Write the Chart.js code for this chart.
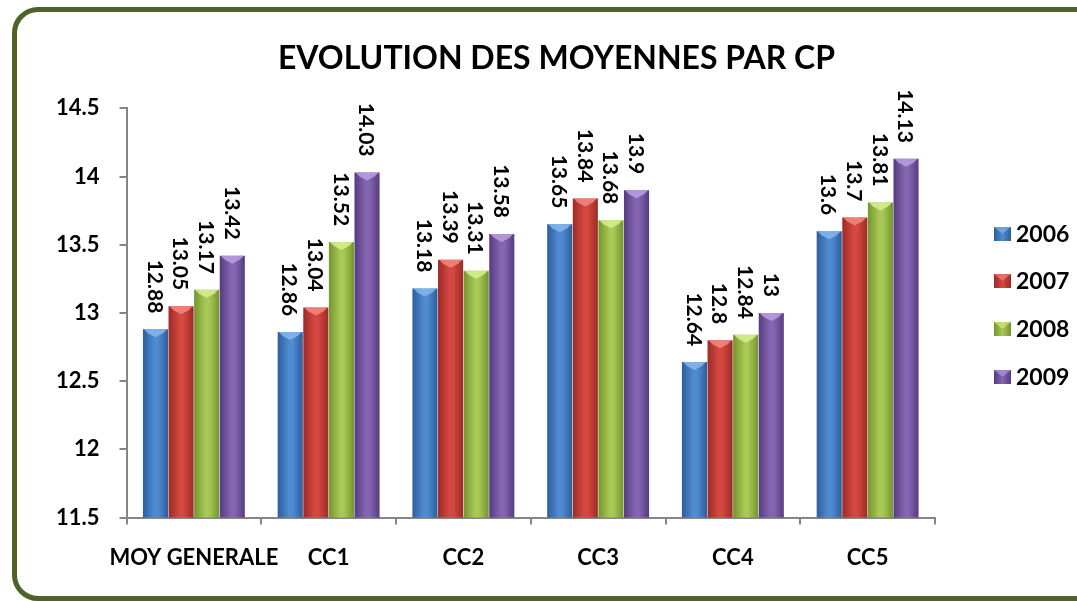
<!DOCTYPE html>
<html>
<head>
<meta charset="utf-8">
<script src="https://cdn.jsdelivr.net/npm/chart.js@4.4.1/dist/chart.umd.min.js"></script>
<style>
  html, body { margin: 0; padding: 0; background: #ffffff; overflow: hidden; }
  #wrap { position: relative; width: 1077px; height: 601px; }
  #frame { position: absolute; left: 12px; top: 7px; width: 1120px; height: 584px;
           border: 5px solid #4F6228; border-radius: 26px; box-sizing: content-box; }
  canvas { position: absolute; left: 0; top: 0; }
</style>
</head>
<body>
<div id="wrap">
  <div id="frame"></div>
  <canvas id="c" width="1077" height="601"></canvas>
</div>
<script>
const categories = ["MOY GENERALE", "CC1", "CC2", "CC3", "CC4", "CC5"];
const seriesNames = ["2006", "2007", "2008", "2009"];
const values2006 = [12.88, 12.86, 13.18, 13.65, 12.64, 13.6];
const values2007 = [13.05, 13.04, 13.39, 13.84, 12.8, 13.7];
const values2008 = [13.17, 13.52, 13.31, 13.68, 12.84, 13.81];
const values2009 = [13.42, 14.03, 13.58, 13.9, 13, 14.13];
const yTicks = [11.5, 12, 12.5, 13, 13.5, 14, 14.5];

// [edge dark, middle light, bevel top]
const palette = [
  ["#2D5D9B", "#4F8BD2", "#86B7EC"],
  ["#9C2B27", "#D4483F", "#F28A82"],
  ["#74952F", "#A8C955", "#D6F08F"],
  ["#553B80", "#8466B0", "#B8A0E2"]
];
const FONT = "Lato, 'Open Sans', sans-serif";

const allValues = [values2006, values2007, values2008, values2009];

const gradientPlugin = {
  id: 'gradientBars',
  beforeDatasetsDraw(chart) {
    const ctx = chart.ctx;
    chart.data.datasets.forEach((ds, i) => {
      const meta = chart.getDatasetMeta(i);
      const p = palette[i];
      meta.data.forEach(el => {
        const w = el.width;
        const g = ctx.createLinearGradient(el.x - w / 2, 0, el.x + w / 2, 0);
        g.addColorStop(0, p[0]);
        g.addColorStop(0.45, p[1]);
        g.addColorStop(0.6, p[1]);
        g.addColorStop(1, p[0]);
        el.options = Object.assign({}, el.options, { backgroundColor: g });
      });
    });
  },
  afterDatasetsDraw(chart) {
    const ctx = chart.ctx;
    chart.data.datasets.forEach((ds, i) => {
      const meta = chart.getDatasetMeta(i);
      const p = palette[i];
      meta.data.forEach((el, j) => {
        const w = el.width;
        const l = el.x - w / 2, r = el.x + w / 2, t = el.y;
        ctx.save();
        ctx.fillStyle = p[2];
        ctx.globalAlpha = 0.85;
        ctx.beginPath();
        ctx.moveTo(l + 1, t);
        ctx.lineTo(r - 1, t);
        ctx.lineTo(r - 5, t + 4);
        ctx.lineTo(el.x, t + 8);
        ctx.lineTo(l + 5, t + 4);
        ctx.closePath();
        ctx.fill();
        ctx.restore();
        // data label
        ctx.save();
        ctx.translate(el.x, t - 16);
        ctx.rotate(Math.PI / 2);
        ctx.font = "bold 21px " + FONT;
        ctx.fillStyle = "#000";
        ctx.textAlign = "right";
        ctx.textBaseline = "middle";
        ctx.fillText(String(ds.data[j]), 0, 1);
        ctx.restore();
      });
    });
  },
  afterDraw(chart) {
    const ctx = chart.ctx;
    const ys = [234, 281, 329, 377];
    chart.data.datasets.forEach((ds, i) => {
      const p = palette[i];
      const x = 994, y = ys[i] - 7, w = 17, h = 14;
      const g = ctx.createLinearGradient(x, 0, x + w, 0);
      g.addColorStop(0, p[0]); g.addColorStop(0.5, p[1]); g.addColorStop(1, p[0]);
      ctx.fillStyle = g;
      ctx.fillRect(x, y, w, h);
      ctx.fillStyle = p[2];
      ctx.globalAlpha = 0.6;
      ctx.beginPath();
      ctx.moveTo(x, y); ctx.lineTo(x + w, y); ctx.lineTo(x + w / 2, y + h / 2); ctx.closePath();
      ctx.fill();
      ctx.globalAlpha = 1;
      ctx.font = "bold 23px " + FONT;
      ctx.fillStyle = "#000";
      ctx.textAlign = "left";
      ctx.textBaseline = "middle";
      ctx.fillText(ds.label, 1016, ys[i] + 1);
    });
  }
};

new Chart(document.getElementById('c'), {
  type: 'bar',
  data: {
    labels: categories,
    datasets: seriesNames.map((name, i) => ({
      label: name,
      data: allValues[i],
      backgroundColor: palette[i][1],
      borderWidth: 0,
      categoryPercentage: 0.76,
      barPercentage: 0.98
    }))
  },
  options: {
    responsive: false,
    animation: false,
    devicePixelRatio: 1,
    layout: { padding: { left: 36, right: 0, top: 0, bottom: 10 } },
    plugins: {
      legend: { display: false },
      tooltip: { enabled: false },
      title: {
        display: true,
        text: "EVOLUTION DES MOYENNES PAR CP",
        color: "#000",
        font: { family: FONT, size: 32, weight: 'bold' },
        padding: { top: 39, bottom: 31 }
      }
    },
    scales: {
      x: {
        grid: { display: true, drawOnChartArea: false, drawTicks: true, tickLength: 7, color: '#868686', lineWidth: 2 },
        border: { display: true, color: '#868686', width: 2 },
        ticks: { color: '#000', font: { family: FONT, size: 22, weight: 'bold' }, padding: 20, maxRotation: 0, autoSkip: false }
      },
      y: {
        min: 11.5, max: 14.5,
        afterBuildTicks(scale) { scale.ticks = yTicks.map(v => ({ value: v })); },
        grid: { display: true, drawOnChartArea: false, drawTicks: true, tickLength: 7, color: '#868686', lineWidth: 2 },
        border: { display: true, color: '#868686', width: 2 },
        ticks: { color: '#000', font: { family: FONT, size: 22, weight: 'bold' }, padding: 20,
                 callback: v => String(v) }
      },
      legendSpace: {
        type: 'linear',
        position: 'right',
        display: true,
        grid: { display: false },
        border: { display: false },
        ticks: { display: false },
        afterFit(scale) { scale.width = 142; }
      }
    }
  },
  plugins: [gradientPlugin]
});
</script>
</body>
</html>
